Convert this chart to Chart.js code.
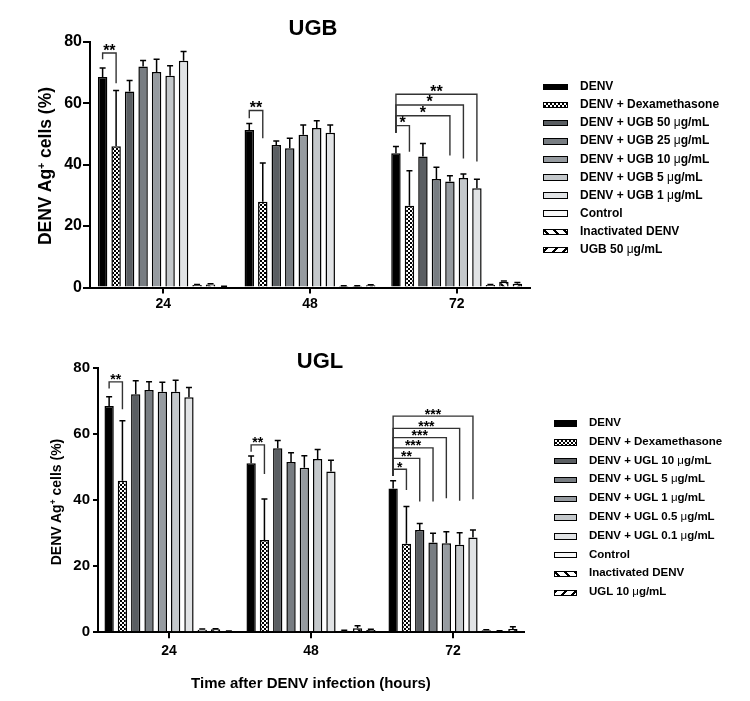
<!DOCTYPE html>
<html>
<head>
<meta charset="utf-8">
<script src="https://cdn.jsdelivr.net/npm/chart.js@4.4.0/dist/chart.umd.min.js"></script>
<style>
  html, body { margin: 0; padding: 0; background: #fff; }
  #wrap { position: relative; width: 750px; height: 701px; overflow: hidden; background: #fff;
          font-family: 'Liberation Sans', Arial, Helvetica, sans-serif; font-weight: bold; color: #000; }
  canvas { position: absolute; left: 0; }
  .txt { position: absolute; white-space: nowrap; line-height: 1; }
  .ctr { transform: translate(-50%, -50%); }
  .rot { transform: translate(-50%, -50%) rotate(-90deg); }
  .patch { position: absolute; box-sizing: border-box; border: 1.5px solid #000; }
  .mu { font-weight: normal; }
</style>
</head>
<body>
<div id="wrap">
  <canvas id="c1" width="750" height="320" style="top:0px"></canvas>
  <canvas id="c2" width="750" height="381" style="top:320px"></canvas>
</div>
<script>
// ---------------- DATA ----------------
const categories = ['24', '48', '72'];
const yTicks = [0, 20, 40, 60, 80];

// UGB panel
const ugbLabels = ['DENV', 'DENV + Dexamethasone', 'DENV + UGB 50 μg/mL', 'DENV + UGB 25 μg/mL',
  'DENV + UGB 10 μg/mL', 'DENV + UGB 5 μg/mL', 'DENV + UGB 1 μg/mL', 'Control', 'Inactivated DENV', 'UGB 50 μg/mL'];
const ugbDenv    = [68.5, 51.3, 43.7];
const ugbDexa    = [46.0, 27.9, 26.6];
const ugb50      = [63.8, 46.4, 42.6];
const ugb25      = [71.9, 45.3, 35.3];
const ugb10      = [70.1, 49.7, 34.5];
const ugb5       = [68.9, 51.9, 35.6];
const ugb1       = [73.8, 50.4, 32.3];
const ugbControl = [0.8, 0.5, 0.8];
const ugbInact   = [1.0, 0.5, 1.9];
const ugbAlone   = [0.3, 0.7, 1.2];
// upper end of error bars
const ugbDenvErr    = [71.4, 53.4, 45.9];
const ugbDexaErr    = [64.1, 40.5, 38.0];
const ugb50Err      = [67.4, 47.7, 46.9];
const ugb25Err      = [73.9, 48.6, 39.1];
const ugb10Err      = [74.3, 52.9, 36.4];
const ugb5Err       = [72.2, 54.3, 36.9];
const ugb1Err       = [76.8, 52.9, 35.2];
const ugbControlErr = [1.0, 0.6, 1.0];
const ugbInactErr   = [1.2, 0.6, 2.1];
const ugbAloneErr   = [0.4, 0.9, 1.6];
// significance brackets: category, compared series, bracket top, left leg end, right leg end, label
const ugbSig = [
  [0, 1, 76.3, 74.3, 66.5, '**'],
  [1, 1, 57.6, 55.1, 48.6, '**'],
  [2, 1, 52.7, 50.4, 44.2, '*'],
  [2, 4, 55.9, 50.4, 43.0, '*'],
  [2, 5, 59.4, 50.4, 42.0, '*'],
  [2, 6, 62.9, 50.4, 41.0, '**']
];

// UGL panel
const uglLabels = ['DENV', 'DENV + Dexamethasone', 'DENV + UGL 10 μg/mL', 'DENV + UGL 5 μg/mL',
  'DENV + UGL 1 μg/mL', 'DENV + UGL 0.5 μg/mL', 'DENV + UGL 0.1 μg/mL', 'Control', 'Inactivated DENV', 'UGL 10 μg/mL'];
const uglDenv    = [68.6, 51.2, 43.6];
const uglDexa    = [45.9, 28.0, 26.8];
const ugl10      = [72.1, 55.8, 31.0];
const ugl5       = [73.4, 51.6, 27.2];
const ugl1       = [72.9, 49.9, 27.0];
const ugl05      = [72.9, 52.5, 26.5];
const ugl01      = [71.2, 48.7, 28.7];
const uglControl = [0.8, 0.5, 0.6];
const uglInact   = [0.9, 1.2, 0.4];
const uglAlone   = [0.3, 0.7, 1.0];
const uglDenvErr    = [71.4, 53.4, 45.9];
const uglDexaErr    = [64.1, 40.4, 38.1];
const ugl10Err      = [76.2, 58.1, 33.0];
const ugl5Err       = [75.9, 54.4, 30.0];
const ugl1Err       = [75.8, 53.5, 30.5];
const ugl05Err      = [76.4, 55.4, 30.2];
const ugl01Err      = [74.2, 52.1, 31.0];
const uglControlErr = [1.0, 0.6, 0.8];
const uglInactErr   = [1.1, 2.0, 0.5];
const uglAloneErr   = [0.4, 0.9, 1.7];
const uglSig = [
  [0, 1, 75.9, 73.9, 67.6, '**'],
  [1, 1, 56.8, 54.7, 48.0, '**'],
  [2, 1, 49.4, 47.4, 43.1, '*'],
  [2, 2, 52.7, 47.4, 39.6, '**'],
  [2, 3, 55.9, 47.4, 39.6, '***'],
  [2, 4, 59.0, 47.4, 40.6, '***'],
  [2, 5, 61.8, 47.4, 39.9, '***'],
  [2, 6, 65.5, 47.4, 40.3, '***']
];

// ---------------- STYLES ----------------
const FONT = "'Liberation Sans', Arial, Helvetica, sans-serif";
function pat(draw, size) {
  const c = document.createElement('canvas');
  c.width = size; c.height = size;
  const g = c.getContext('2d');
  g.fillStyle = '#fff'; g.fillRect(0, 0, size, size);
  g.fillStyle = '#000'; g.strokeStyle = '#000';
  draw(g, size);
  return c.getContext('2d').createPattern(c, 'repeat');
}
const checker = pat((g) => { g.fillRect(0, 0, 2, 2); g.fillRect(2, 2, 2, 2); }, 4);
const back = pat((g, s) => { g.lineWidth = 2.2; g.beginPath();
  g.moveTo(-2, -2); g.lineTo(s + 2, s + 2); g.moveTo(-2, s - 2); g.lineTo(2, s + 2); g.moveTo(s - 2, -2); g.lineTo(s + 2, 2); g.stroke(); }, 7);
const fwd = pat((g, s) => { g.lineWidth = 2.2; g.beginPath();
  g.moveTo(-2, s + 2); g.lineTo(s + 2, -2); g.moveTo(-2, 2); g.lineTo(2, -2); g.moveTo(s - 2, s + 2); g.lineTo(s + 2, s - 2); g.stroke(); }, 7);
const fills = ['#000000', checker, '#5a5e62', '#787d82', '#969ba0', '#c4c8cb', '#e1e3e5', '#f7f7f7', back, fwd];
const cssFills = ['#000',
  'repeating-conic-gradient(#000 0 25%, #fff 0 50%) 0 0/4px 4px',
  '#5a5e62', '#787d82', '#969ba0', '#c4c8cb', '#e1e3e5', '#f7f7f7',
  'repeating-linear-gradient(45deg, #fff 0 2px, #000 2px 4px, #fff 4px 7px)',
  'repeating-linear-gradient(-45deg, #fff 0 2px, #000 2px 4px, #fff 4px 7px)'];

const overlay = {
  id: 'overlay',
  afterDatasetsDraw(chart, args, o) {
    const ctx = chart.ctx, ys = chart.scales.y;
    ctx.save();
    ctx.strokeStyle = '#000'; ctx.lineWidth = 1.5; ctx.lineCap = 'butt';
    chart.data.datasets.forEach((ds, di) => {
      chart.getDatasetMeta(di).data.forEach((bar, i) => {
        const yt = ys.getPixelForValue(o.errs[di][i]);
        if (o.errs[di][i] <= ds.data[i]) return;
        ctx.beginPath();
        ctx.moveTo(bar.x, bar.y); ctx.lineTo(bar.x, yt);
        ctx.moveTo(bar.x - o.cap, yt); ctx.lineTo(bar.x + o.cap, yt);
        ctx.stroke();
      });
    });
    ctx.strokeStyle = '#333'; ctx.lineWidth = 1.4;
    ctx.fillStyle = '#000'; ctx.font = 'bold ' + o.starSize + 'px ' + FONT;
    ctx.textAlign = 'center'; ctx.textBaseline = 'alphabetic';
    o.sig.forEach(([cat, to, yTop, yl, yr, lab]) => {
      const x0 = chart.getDatasetMeta(0).data[cat].x;
      const x1 = chart.getDatasetMeta(to).data[cat].x;
      const py = ys.getPixelForValue(yTop);
      ctx.beginPath();
      ctx.moveTo(x0, ys.getPixelForValue(yl)); ctx.lineTo(x0, py);
      ctx.lineTo(x1, py); ctx.lineTo(x1, ys.getPixelForValue(yr));
      ctx.stroke();
      ctx.fillText(lab, (x0 + x1) / 2, py + 2.5);
    });
    ctx.restore();
  }
};

function makeChart(id, labels, series, errs, sig, L) {
  const datasets = series.map((d, i) => ({
    label: labels[i], data: d, backgroundColor: fills[i],
    borderColor: '#000', borderWidth: 1.5, borderSkipped: 'bottom',
    barPercentage: L.barPct, categoryPercentage: L.catPct
  }));
  return new Chart(document.getElementById(id), {
    type: 'bar',
    data: { labels: categories, datasets },
    options: {
      responsive: false, animation: false, devicePixelRatio: 1,
      layout: { padding: { left: 0, right: L.right, top: L.top, bottom: 0 } },
      plugins: { legend: { display: false }, tooltip: { enabled: false },
        overlay: { errs, sig, cap: 3, starSize: L.star } },
      scales: {
        x: {
          offset: true,
          grid: { display: true, drawOnChartArea: false, drawTicks: true, tickLength: 6, offset: false, color: '#000', lineWidth: 2 },
          border: { display: true, color: '#000', width: 2 },
          ticks: { color: '#000', font: { family: FONT, weight: 'bold', size: L.xFont }, padding: L.xPad, maxRotation: 0 },
          afterFit: (s) => { s.height = L.xH; }
        },
        y: {
          min: 0, max: 80,
          afterBuildTicks: (s) => { s.ticks = yTicks.map(v => ({ value: v })); },
          grid: { display: true, drawOnChartArea: false, drawTicks: true, tickLength: L.yTick, color: '#000', lineWidth: 2 },
          border: { display: true, color: '#000', width: 2 },
          ticks: { color: '#000', font: { family: FONT, weight: 'bold', size: L.yFont }, padding: L.yPad },
          afterFit: (s) => { s.width = L.yW; }
        }
      }
    },
    plugins: [overlay]
  });
}

makeChart('c1', ugbLabels,
  [ugbDenv, ugbDexa, ugb50, ugb25, ugb10, ugb5, ugb1, ugbControl, ugbInact, ugbAlone],
  [ugbDenvErr, ugbDexaErr, ugb50Err, ugb25Err, ugb10Err, ugb5Err, ugb1Err, ugbControlErr, ugbInactErr, ugbAloneErr],
  ugbSig,
  { right: 220, top: 41.7, xH: 32.5, yW: 90, barPct: 0.7, catPct: 0.92, xFont: 14, xPad: 2, yFont: 16, yPad: 1, yTick: 7, star: 16 });

makeChart('c2', uglLabels,
  [uglDenv, uglDexa, ugl10, ugl5, ugl1, ugl05, ugl01, uglControl, uglInact, uglAlone],
  [uglDenvErr, uglDexaErr, ugl10Err, ugl5Err, ugl1Err, ugl05Err, ugl01Err, uglControlErr, uglInactErr, uglAloneErr],
  uglSig,
  { right: 226, top: 48.3, xH: 68.7, yW: 98, barPct: 0.7, catPct: 0.937, xFont: 14, xPad: 4, yFont: 15, yPad: 3, yTick: 5, star: 14 });

// ---------------- TEXT & LEGENDS ----------------
const wrap = document.getElementById('wrap');
function addText(html, x, y, size, cls) {
  const d = document.createElement('div');
  d.className = 'txt ' + cls;
  d.style.left = x + 'px'; d.style.top = y + 'px'; d.style.fontSize = size + 'px';
  d.innerHTML = html;
  wrap.appendChild(d);
}
const muHtml = (s) => s.replace('μ', '<span class="mu">μ</span>');
addText('UGB', 313, 28, 22, 'ctr');
addText('UGL', 320, 361, 22, 'ctr');
addText('DENV Ag<sup style="font-size:0.6em;vertical-align:0.55em;">+</sup> cells (%)', 45, 166, 17.5, 'rot');
addText('DENV Ag<sup style="font-size:0.6em;vertical-align:0.55em;">+</sup> cells (%)', 56, 502, 14, 'rot');
addText('Time after DENV infection (hours)', 311, 682, 15, 'ctr');

function legend(labels, x0, xt, y0, step, pw, size) {
  labels.forEach((lab, i) => {
    const y = y0 + i * step;
    const p = document.createElement('div');
    p.className = 'patch';
    p.style.left = x0 + 'px'; p.style.top = (y - 3) + 'px';
    p.style.width = pw + 'px'; p.style.height = '6.5px';
    p.style.background = cssFills[i];
    wrap.appendChild(p);
    const t = document.createElement('div');
    t.className = 'txt';
    t.style.left = xt + 'px'; t.style.top = (y - size * 0.55) + 'px'; t.style.fontSize = size + 'px';
    t.innerHTML = muHtml(lab);
    wrap.appendChild(t);
  });
}
legend(ugbLabels, 543, 580, 86.7, 18.1, 25, 12);
legend(uglLabels, 554, 589, 423.3, 18.8, 23, 11.5);
</script>
</body>
</html>
